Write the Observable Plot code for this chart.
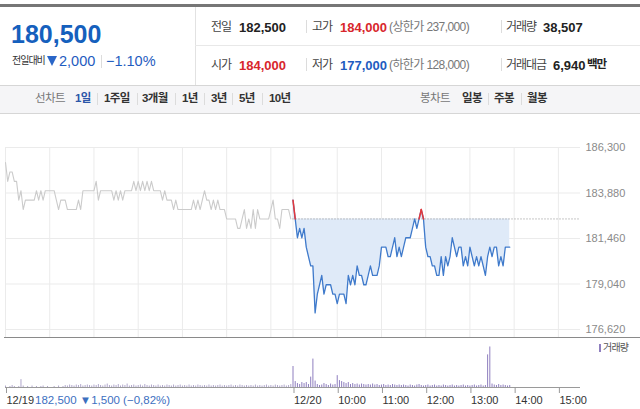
<!DOCTYPE html>
<html><head><meta charset="utf-8">
<script src="https://cdn.jsdelivr.net/npm/d3@7"></script>
<script src="https://cdn.jsdelivr.net/npm/@observablehq/plot@0.6"></script>
<style>
body{margin:0;background:#fff;}
#root{position:relative;width:640px;height:409px;overflow:hidden;font-family:"Liberation Sans",Arial,"Noto Sans CJK KR",sans-serif;color:#333;background:#fff;}
.a{position:absolute;white-space:nowrap;line-height:1;}
.k{font-family:"Liberation Sans","Noto Sans CJK KR",sans-serif;}
.lab{font-size:12px;letter-spacing:-1px;color:#444;}
.b{font-weight:bold;}
.num{font-size:13px;font-weight:bold;color:#222;}
.sep{position:absolute;width:1px;background:#dcdcdc;}
.red{color:#d8262c;}
.blue{color:#1f5cc0;}
.gray{color:#777;}
.par{font-size:12px;letter-spacing:-0.6px;color:#777;}
.tb{font-size:11.5px;letter-spacing:-0.6px;top:93px;}
</style></head><body><div id="root">
<div style="position:absolute;left:0;top:4px;width:640px;height:3px;background:#767676"></div>
<div style="position:absolute;left:195px;top:7px;width:1px;height:78px;background:#e2e2e2"></div>
<div style="position:absolute;left:195px;top:45px;width:445px;height:1px;background:#e8e8e8"></div>
<div style="position:absolute;left:0;top:85px;width:640px;height:27px;background:#f5f5f7;border-top:1px solid #d6d6d6;border-bottom:1px solid #d6d6d6"></div>

<div class="a b" style="left:11px;top:22px;font-size:25px;color:#1560bd">180,500</div>
<div class="a k" style="left:12px;top:56px;font-size:10px;letter-spacing:-1px;color:#333">전일대비</div>
<div style="position:absolute;left:47px;top:56px;width:0;height:0;border-left:5.5px solid transparent;border-right:5.5px solid transparent;border-top:10px solid #2a66c8"></div>
<div class="a blue" style="left:59px;top:54px;font-size:14.5px">2,000</div>
<div class="sep" style="left:101px;top:55px;height:13px"></div>
<div class="a blue" style="left:106px;top:54px;font-size:14.5px">−1.10%</div>

<div class="a k lab" style="left:211px;top:21px">전일</div>
<div class="a num" style="left:239px;top:21px">182,500</div>
<div class="sep" style="left:306px;top:20px;height:13px"></div>
<div class="a k lab" style="left:312px;top:21px">고가</div>
<div class="a num red" style="left:340px;top:21px">184,000</div>
<div class="a k par" style="left:389px;top:21px">(상한가 237,000)</div>
<div class="sep" style="left:501px;top:20px;height:13px"></div>
<div class="a k lab" style="left:506px;top:21px">거래량</div>
<div class="a num" style="left:543px;top:21px">38,507</div>

<div class="a k lab" style="left:211px;top:59px">시가</div>
<div class="a num red" style="left:239px;top:59px">184,000</div>
<div class="sep" style="left:306px;top:58px;height:13px"></div>
<div class="a k lab" style="left:312px;top:59px">저가</div>
<div class="a num blue" style="left:340px;top:59px">177,000</div>
<div class="a k par" style="left:389px;top:59px">(하한가 128,000)</div>
<div class="sep" style="left:501px;top:58px;height:13px"></div>
<div class="a k lab" style="left:506px;top:59px">거래대금</div>
<div class="a num" style="left:553px;top:59px">6,940</div>
<div class="a k b" style="left:587px;top:59px;font-size:11.5px;letter-spacing:-1px;color:#222">백만</div>

<div class="a k tb gray" style="left:35px">선차트</div>
<div class="a k tb b" style="left:75px;color:#2b56a8">1일</div>
<div class="sep" style="left:97px;top:93px;height:12px"></div>
<div class="a k tb b" style="left:104px">1주일</div>
<div class="sep" style="left:137px;top:93px;height:12px"></div>
<div class="a k tb b" style="left:142px">3개월</div>
<div class="sep" style="left:175px;top:93px;height:12px"></div>
<div class="a k tb b" style="left:182px">1년</div>
<div class="sep" style="left:204px;top:93px;height:12px"></div>
<div class="a k tb b" style="left:211px">3년</div>
<div class="sep" style="left:232px;top:93px;height:12px"></div>
<div class="a k tb b" style="left:239px">5년</div>
<div class="sep" style="left:262px;top:93px;height:12px"></div>
<div class="a k tb b" style="left:269px">10년</div>
<div class="a k tb gray" style="left:420px">봉차트</div>
<div class="a k tb b" style="left:462px">일봉</div>
<div class="sep" style="left:488px;top:93px;height:12px"></div>
<div class="a k tb b" style="left:494px">주봉</div>
<div class="sep" style="left:521px;top:93px;height:12px"></div>
<div class="a k tb b" style="left:527px">월봉</div>

<div id="pricebox" style="position:absolute;left:0;top:130px"></div>
<div id="volbox" style="position:absolute;left:0;top:338px"></div>
<div style="position:absolute;left:4px;top:337px;width:636px;height:1px;background:#8a8a8a"></div>
<div style="position:absolute;left:599px;top:344px;width:2px;height:8px;background:#8f7fbf"></div>
<div class="a k" style="left:603px;top:343px;font-size:10px;letter-spacing:-0.8px;color:#555">거래량</div>
<div class="a" style="left:35px;top:395px;font-size:11.5px;color:#3d6fbf">182,500 ▼1,500 (−0,82%)</div>
</div>
<script>
// 주가 (천원), 3분 간격. 12/19 09:00 ~ 15:27, 12/20 09:00 ~ 13:54
const prevClose = 182500;
const stepMinutes = 3;
const dayMinutes = 390;
const prevDayPrices = [
 185.5,184.5,185.0,185.0,184.5,184.5,183.5,184.0,183.0,183.5,
 183.5,183.5,183.5,183.5,184.0,183.5,184.0,183.5,184.0,184.0,
 184.0,184.0,184.0,183.5,183.0,183.5,183.5,183.5,183.0,183.0,
 183.0,183.0,183.0,183.5,183.0,184.0,184.0,184.0,184.0,184.0,
 184.0,184.5,183.5,184.0,184.0,184.0,184.0,184.0,184.0,183.5,
 184.0,183.5,184.0,183.5,184.0,184.0,184.0,184.0,184.5,184.0,
 184.5,184.0,184.5,184.0,184.5,184.0,184.5,184.0,184.0,184.0,
 184.0,183.5,184.0,183.5,183.5,183.5,183.0,183.5,183.0,183.0,
 183.0,183.0,183.0,183.0,183.0,183.5,183.0,183.5,183.0,183.5,
 184.0,183.5,183.5,183.0,183.5,183.0,183.5,183.0,183.0,183.0,
 182.5,182.5,182.5,182.5,182.5,182.0,182.0,182.5,183.0,182.0,
 182.5,182.0,183.0,182.0,183.0,182.5,182.5,182.5,182.5,182.5,
 183.0,183.5,182.5,182.5,182.0,183.0,183.0,183.0,183.0,182.5
];
const todayPrices = [
 183.5,182.5,181.5,182.0,181.5,182.0,181.0,180.5,180.0,180.0,
 177.5,178.5,179.0,179.5,178.5,179.0,179.0,179.0,178.5,178.5,
 178.0,178.5,178.5,178.5,178.0,179.5,179.0,179.5,179.0,180.0,
 179.5,179.5,179.0,179.0,179.5,180.0,179.5,179.5,179.5,180.0,
 181.0,181.0,181.0,180.5,180.5,181.0,181.5,180.5,181.0,180.5,
 181.0,181.5,181.5,181.5,182.0,182.5,182.0,182.5,183.0,182.5,
 181.0,180.5,180.5,180.0,180.0,179.5,179.5,180.5,179.5,180.5,
 180.0,180.5,181.5,181.0,180.5,181.0,181.0,180.0,180.5,180.0,
 181.0,180.5,180.0,180.5,180.0,180.5,180.0,179.5,180.5,181.0,
 180.5,181.0,181.0,180.0,180.5,180.0,181.0,181.0,181.0
];
// 거래량 (주), 3분 간격
const prevDayVolume = [
 60,0,40,80,40,0,40,320,60,0,
 40,0,60,0,40,0,40,60,0,40,
 0,0,40,0,60,0,40,80,60,100,
 80,60,100,80,120,60,80,100,80,60,
 100,80,120,80,60,100,140,80,60,100,
 80,120,60,100,80,140,60,80,100,60,
 80,100,60,120,80,60,100,80,60,100,
 60,80,60,100,80,60,100,60,80,100,
 60,80,60,100,60,80,60,100,80,60,
 80,60,100,60,80,60,80,100,60,80,
 60,80,100,60,80,60,100,80,60,80,
 60,80,60,100,60,80,60,80,100,60,
 80,60,100,80,60,80,100,60,80,120
];
const todayVolume = [
 850,240,160,120,200,160,200,120,420,1150,
 260,120,80,100,160,120,80,140,100,120,
 480,280,240,200,160,200,120,160,120,140,
 100,140,120,100,120,100,140,100,120,80,
 100,120,80,100,80,120,100,80,100,80,
 100,80,60,100,80,60,100,120,80,60,
 80,100,60,80,100,60,80,60,100,80,
 60,80,100,60,80,60,80,100,60,80,
 60,80,100,60,80,100,60,80,1320,1640,
 140,100,80,120,80,100,80,60,80
];
const priceTicks = [176620, 179040, 181460, 183880, 186300];
const gridMinutes = [0,60,120,180,240,300,360,390,450,510,570,630,690,750];
const axisMinutes = [0,390,450,510,570,630,690,750];
const axisLabels = ["12/19","12/20","10:00","11:00","12:00","13:00","14:00","15:00"];

const prev = prevDayPrices.map((p,i)=>({t:i*stepMinutes, p:p*1000}));
const today = todayPrices.map((p,i)=>({t:dayMinutes+i*stepMinutes, p:p*1000}));
const prevVol = prevDayVolume.map((v,i)=>({t:i*stepMinutes, v}));
const todayVol = todayVolume.map((v,i)=>({t:dayMinutes+i*stepMinutes, v}));

// 전일 종가 위 구간 (빨간 선): 구간을 기준선과의 교차점에서 잘라냄
const up = [];
let seg = 0;
for (let i = 0; i < today.length - 1; i++) {
  const a = today[i], b = today[i+1];
  const aUp = a.p > prevClose, bUp = b.p > prevClose;
  if (!aUp && !bUp) continue;
  const cross = () => ({t: a.t + (b.t - a.t) * (prevClose - a.p) / (b.p - a.p), p: prevClose});
  const s = (a.p >= prevClose) ? a : cross();
  const e = (b.p >= prevClose) ? b : cross();
  seg++;
  up.push({...s, seg}, {...e, seg});
}

const xDomain = [0, 2*dayMinutes];
const font = '"Liberation Sans", Arial, sans-serif';

const price = Plot.plot({
  width:640, height:208, marginTop:17, marginBottom:1, marginLeft:5, marginRight:60,
  x:{domain:xDomain, axis:null},
  y:{domain:[176620,186300], range:[199,17]},
  style:{fontFamily:font, fontSize:"11px", background:"transparent", overflow:"visible"},
  marks:[
    Plot.ruleY(priceTicks,{stroke:"#ebebeb"}),
    Plot.ruleX(gridMinutes,{stroke:"#ebebeb"}),
    Plot.areaY(today,{x:"t", y1:()=>prevClose, y2:"p", fill:"#dfeaf8"}),
    Plot.ruleY([prevClose],{x1:()=>dayMinutes, x2:()=>2*dayMinutes, stroke:"#8c8c8c", strokeDasharray:"1,2"}),
    Plot.line(prev,{x:"t", y:"p", stroke:"#cbcbcb", strokeWidth:1.1}),
    Plot.line(today,{x:"t", y:"p", stroke:"#3f7acb", strokeWidth:1.3}),
    Plot.line(up,{x:"t", y:"p", z:"seg", stroke:"#e5383b", strokeWidth:1.5}),
    Plot.axisY({ticks:priceTicks, anchor:"right", label:null, tickSize:0, tickPadding:5, tickFormat:d3.format(","), fill:"#8a8a8a", fontSize:11})
  ]
});
document.getElementById("pricebox").appendChild(price);

const vol = Plot.plot({
  width:640, height:71, marginTop:4, marginBottom:22, marginLeft:5, marginRight:60,
  x:{domain:xDomain},
  y:{domain:[0,1700], range:[49,7], axis:null},
  style:{fontFamily:font, fontSize:"11px", background:"transparent", overflow:"visible"},
  marks:[
    Plot.ruleX(prevVol,{x:"t", y1:()=>0, y2:"v", stroke:"#b0a7cc"}),
    Plot.ruleX(todayVol,{x:"t", y1:()=>0, y2:"v", stroke:"#8f7fbf"}),
    Plot.ruleY([0],{stroke:"#9a9a9a"}),
    Plot.axisX({ticks:axisMinutes, label:null, tickFormat:d=>axisLabels[axisMinutes.indexOf(d)], tickSize:6, tickPadding:3, textAnchor:"start", dx:1, stroke:"#999", fill:"#333", fontSize:11})
  ]
});
document.getElementById("volbox").appendChild(vol);
</script></body></html>
